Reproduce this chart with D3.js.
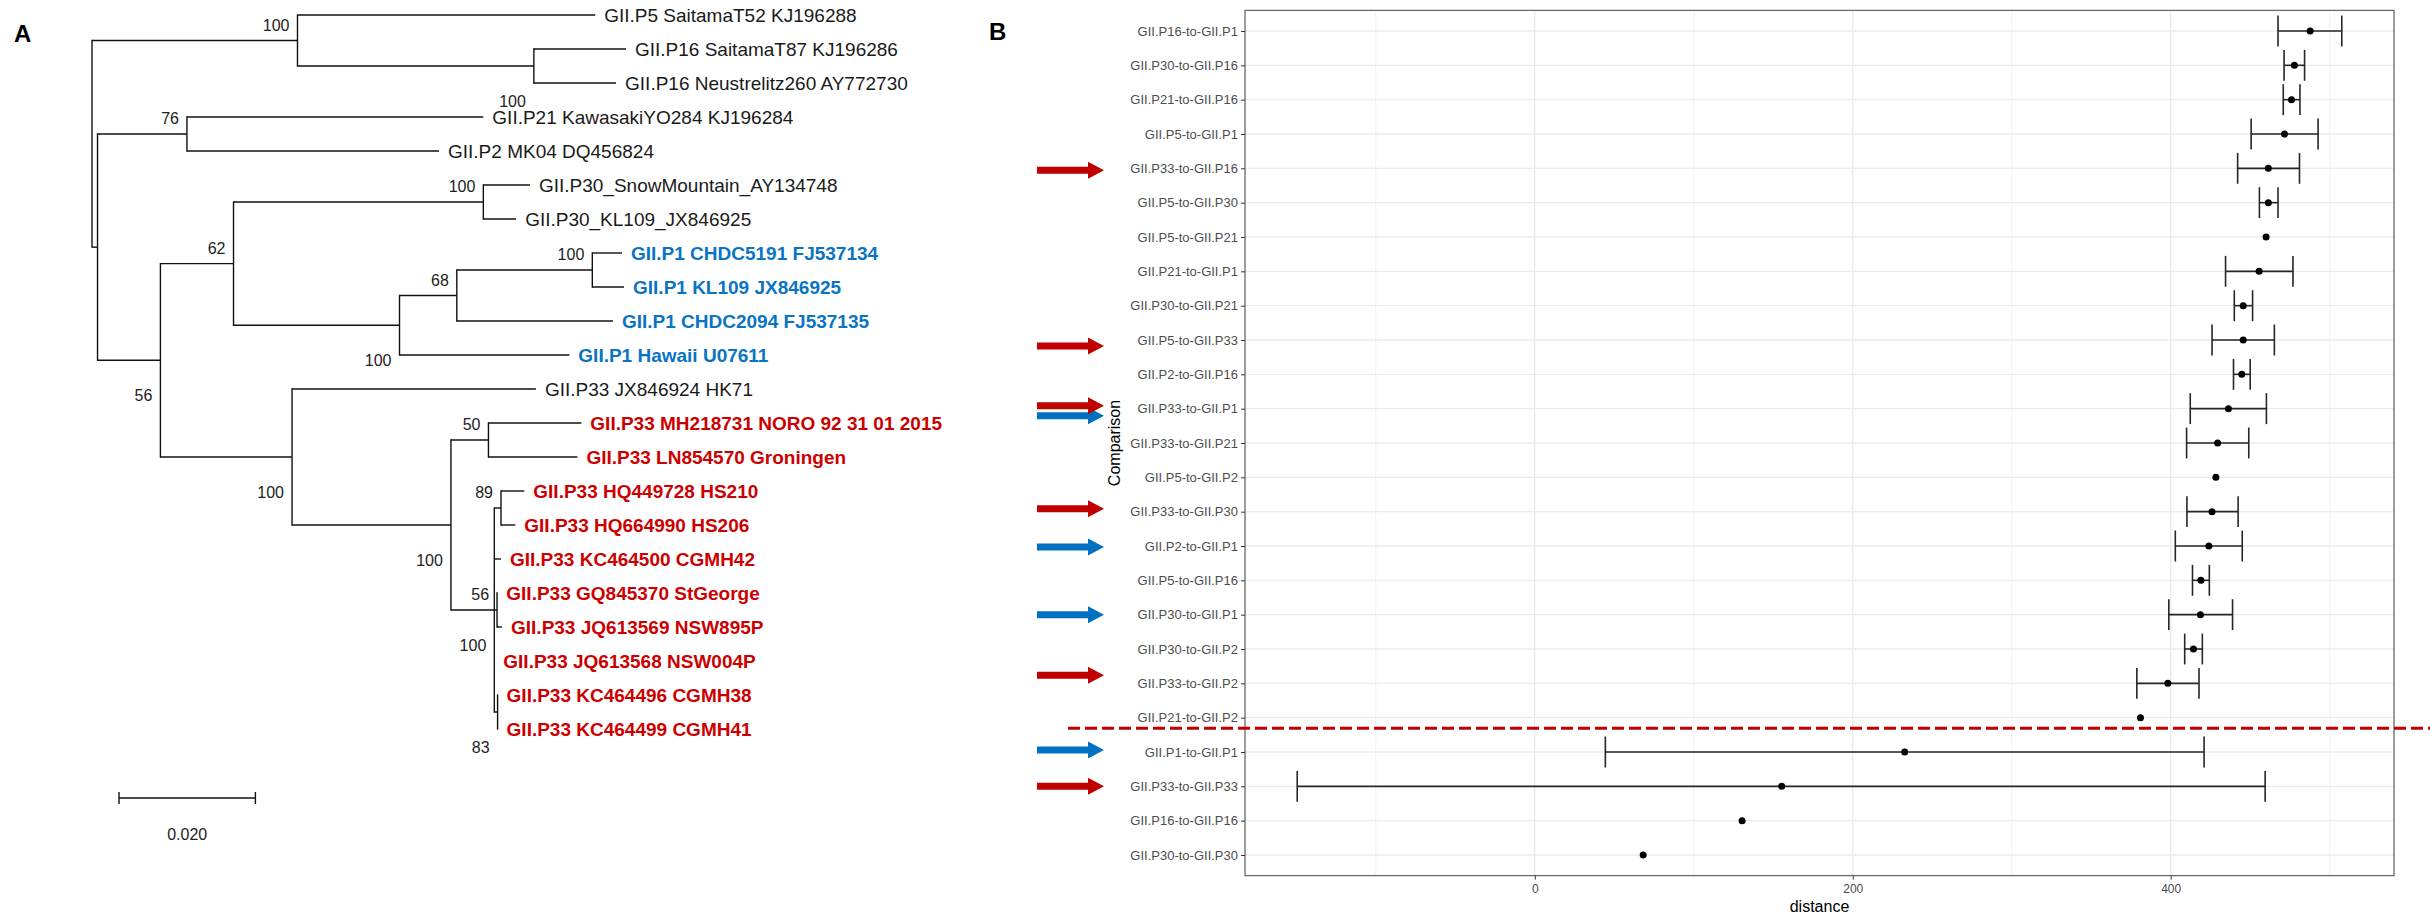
<!DOCTYPE html>
<html lang="en">
<head>
<meta charset="UTF-8">
<title>GII.P tree and distance comparison</title>
<script src="https://cdn.jsdelivr.net/npm/d3@7"></script>
<style>
  body { margin: 0; background: #fff; }
  svg { display: block; font-family: "Liberation Sans", Arial, sans-serif; }
</style>
</head>
<body>
<script>

// ---------- Panel A: tree data ----------
let tipLabels = [
    "GII.P5 SaitamaT52 KJ196288",
    "GII.P16 SaitamaT87 KJ196286",
    "GII.P16 Neustrelitz260 AY772730",
    "GII.P21 KawasakiYO284 KJ196284",
    "GII.P2 MK04 DQ456824",
    "GII.P30_SnowMountain_AY134748",
    "GII.P30_KL109_JX846925",
    "GII.P1 CHDC5191 FJ537134",
    "GII.P1 KL109 JX846925",
    "GII.P1 CHDC2094 FJ537135",
    "GII.P1 Hawaii U07611",
    "GII.P33 JX846924 HK71",
    "GII.P33 MH218731 NORO 92 31 01 2015",
    "GII.P33 LN854570 Groningen",
    "GII.P33 HQ449728 HS210",
    "GII.P33 HQ664990 HS206",
    "GII.P33 KC464500 CGMH42",
    "GII.P33 GQ845370 StGeorge",
    "GII.P33 JQ613569 NSW895P",
    "GII.P33 JQ613568 NSW004P",
    "GII.P33 KC464496 CGMH38",
    "GII.P33 KC464499 CGMH41"
];
// colour group of each tip (ref = black, P1 = blue, P33 = red)
let tipGroups = ["ref", "ref", "ref", "ref", "ref", "ref", "ref",
    "P1", "P1", "P1", "P1", "ref",
    "P33", "P33", "P33", "P33", "P33", "P33", "P33", "P33", "P33", "P33"];

// node, parent, branch length (tips are t1..t22 in label order)
let treeNodes = [
    {id: "root", parent: "", len: 0},
    {id: "nA", parent: "root", len: 0.03013},
    {id: "t1", parent: "nA", len: 0.04365},
    {id: "nA2", parent: "nA", len: 0.03466},
    {id: "t2", parent: "nA2", len: 0.01350},
    {id: "t3", parent: "nA2", len: 0.01205},
    {id: "n2", parent: "root", len: 0.00081},
    {id: "nB", parent: "n2", len: 0.01311},
    {id: "t4", parent: "nB", len: 0.04346},
    {id: "t5", parent: "nB", len: 0.03696},
    {id: "n3", parent: "n2", len: 0.00922},
    {id: "nC", parent: "n3", len: 0.01072},
    {id: "nC1", parent: "nC", len: 0.03663},
    {id: "t6", parent: "nC1", len: 0.00683},
    {id: "t7", parent: "nC1", len: 0.00481},
    {id: "nC2", parent: "nC", len: 0.02434},
    {id: "nC3", parent: "nC2", len: 0.00840},
    {id: "nC4", parent: "nC3", len: 0.01987},
    {id: "t8", parent: "nC4", len: 0.00435},
    {id: "t9", parent: "nC4", len: 0.00465},
    {id: "t10", parent: "nC3", len: 0.02289},
    {id: "t11", parent: "nC2", len: 0.02490},
    {id: "nD", parent: "n3", len: 0.01930},
    {id: "t12", parent: "nD", len: 0.03576},
    {id: "nE", parent: "nD", len: 0.02330},
    {id: "nE1", parent: "nE", len: 0.00550},
    {id: "t13", parent: "nE1", len: 0.01362},
    {id: "t14", parent: "nE1", len: 0.01304},
    {id: "nE2", parent: "nE", len: 0.00636},
    {id: "nF89", parent: "nE2", len: 0.00098},
    {id: "t15", parent: "nF89", len: 0.00342},
    {id: "t16", parent: "nF89", len: 0.00210},
    {id: "t17", parent: "nE2", len: 0.00098},
    {id: "nF56", parent: "nE2", len: 0.00040},
    {id: "t18", parent: "nF56", len: 0.00004},
    {id: "t19", parent: "nF56", len: 0.00073},
    {id: "t20", parent: "nE2", len: 0},
    {id: "nF83", parent: "nE2", len: 0.00048},
    {id: "t21", parent: "nF83", len: 0},
    {id: "t22", parent: "nF83", len: 0}
];

// bootstrap support per node and whether it sits above or below the node
let bootNodes = ["nA", "nA2", "nB", "nC1", "nC", "nC4", "nC3", "nC2", "n3", "nE1", "nD", "nE", "nF89", "nF56", "nE2", "nF83"];
let bootValues = [100, 100, 76, 100, 62, 100, 68, 100, 56, 50, 100, 100, 89, 56, 100, 83];
let bootSide = ["up", "down", "up", "up", "up", "up", "up", "down", "down", "up", "down", "down", "up", "up", "down", "down"];

let scaleBarValue = 0.02;

// ---------- Panel B: distance data ----------
let comparisons = [
    "GII.P16-to-GII.P1", "GII.P30-to-GII.P16", "GII.P21-to-GII.P16", "GII.P5-to-GII.P1",
    "GII.P33-to-GII.P16", "GII.P5-to-GII.P30", "GII.P5-to-GII.P21", "GII.P21-to-GII.P1",
    "GII.P30-to-GII.P21", "GII.P5-to-GII.P33", "GII.P2-to-GII.P16", "GII.P33-to-GII.P1",
    "GII.P33-to-GII.P21", "GII.P5-to-GII.P2", "GII.P33-to-GII.P30", "GII.P2-to-GII.P1",
    "GII.P5-to-GII.P16", "GII.P30-to-GII.P1", "GII.P30-to-GII.P2", "GII.P33-to-GII.P2",
    "GII.P21-to-GII.P2", "GII.P1-to-GII.P1", "GII.P33-to-GII.P33", "GII.P16-to-GII.P16",
    "GII.P30-to-GII.P30"
];
let meanDist = [487.7, 477.8, 476.0, 471.6, 461.4, 461.4, 460.0, 455.6, 445.6, 445.6, 444.7, 436.3,
    429.5, 428.4, 426.0, 424.0, 419.0, 418.7, 414.3, 398.2, 381.0, 232.7, 155.3, 130.4, 68.2];
let lowerDist = [467.5, 471.3, 470.8, 450.6, 442.1, 455.8, null, 434.5, 440.0, 426.0, 439.5, 412.3,
    410.0, null, 410.2, 402.9, 413.7, 398.8, 408.8, 378.7, null, 44.4, -149.4, null, null];
let upperDist = [507.6, 484.2, 481.3, 492.7, 481.0, 467.5, null, 476.9, 451.5, 465.2, 450.0, 460.2,
    449.1, null, 442.4, 445.0, 424.3, 438.9, 419.9, 417.8, null, 421.0, 459.4, null, null];

let xTicks = [0, 200, 400];
let xMinor = [-100, 100, 300, 500];

// highlighted rows (arrows left of the labels)
let arrowRows = ["GII.P33-to-GII.P16", "GII.P5-to-GII.P33", "GII.P33-to-GII.P1", "GII.P33-to-GII.P30",
    "GII.P33-to-GII.P2", "GII.P33-to-GII.P33",
    "GII.P33-to-GII.P1", "GII.P2-to-GII.P1", "GII.P30-to-GII.P1", "GII.P1-to-GII.P1"];
let arrowColors = ["red", "red", "red", "red", "red", "red", "blue", "blue", "blue", "blue"];
let arrowShift = [2, 6, -3, -3, -8, 0, 7, 1, 0, -2]; // small vertical nudges

let cutAfter = "GII.P21-to-GII.P2"; // dashed separator below this row

// ---------- drawing ----------
let W = 2430, H = 916;
let colRed = "#c00000", colBlue = "#0070c0";
let labelCol = {ref: "#1a1a1a", P1: "#0a74c4", P33: "#cc0000"};

let svg = d3.select("body").append("svg")
    .attr("width", W)
    .attr("height", H);

svg.append("rect").attr("width", W).attr("height", H).attr("fill", "#fff");

// panel letters
svg.append("text").attr("x", 14).attr("y", 42)
    .attr("font-size", "24px").attr("font-weight", "bold").text("A");
svg.append("text").attr("x", 989).attr("y", 40)
    .attr("font-size", "24px").attr("font-weight", "bold").text("B");

// ----- tree -----
let root = d3.stratify()
    .id(d => d.id)
    .parentId(d => d.parent)(treeNodes);

root.eachBefore(n => n.dist = (n.parent ? n.parent.dist : 0) + n.data.len);

let xTree = d3.scaleLinear().domain([0, scaleBarValue]).range([92, 228.4]);
let yTip = d3.scaleLinear().domain([0, tipLabels.length - 1]).range([15, 729]);

root.leaves().forEach(n => {
    n.tipIndex = +n.id.slice(1) - 1;
    n.yy = yTip(n.tipIndex);
});
root.eachAfter(n => {
    if (n.children) {
        n.yy = (n.children[0].yy + n.children[n.children.length - 1].yy) / 2;
    }
});

let tree = svg.append("g").attr("id", "tree");

// horizontal branches
tree.selectAll("line.branch")
    .data(root.descendants().filter(n => n.parent))
    .enter().append("line")
    .attr("class", "branch")
    .attr("x1", d => xTree(d.parent.dist))
    .attr("x2", d => xTree(d.dist))
    .attr("y1", d => d.yy)
    .attr("y2", d => d.yy)
    .attr("stroke", "#111")
    .attr("stroke-width", 1.4);

// vertical connectors
tree.selectAll("line.conn")
    .data(root.descendants().filter(n => n.children))
    .enter().append("line")
    .attr("class", "conn")
    .attr("x1", d => xTree(d.dist))
    .attr("x2", d => xTree(d.dist))
    .attr("y1", d => d.children[0].yy)
    .attr("y2", d => d.children[d.children.length - 1].yy)
    .attr("stroke", "#111")
    .attr("stroke-width", 1.4)
    .attr("stroke-linecap", "square");

// tip labels
tree.selectAll("text.tip")
    .data(root.leaves())
    .enter().append("text")
    .attr("class", "tip")
    .attr("x", d => xTree(d.dist) + 9)
    .attr("y", d => d.yy)
    .attr("dy", "0.35em")
    .attr("font-size", "19px")
    .attr("font-weight", d => tipGroups[d.tipIndex] === "ref" ? "normal" : "bold")
    .attr("fill", d => labelCol[tipGroups[d.tipIndex]])
    .text(d => tipLabels[d.tipIndex]);

// bootstrap values
let nodeById = new Map(root.descendants().map(n => [n.id, n]));
tree.selectAll("text.boot")
    .data(bootNodes)
    .enter().append("text")
    .attr("class", "boot")
    .attr("text-anchor", "end")
    .attr("x", d => xTree(nodeById.get(d).dist) - 8)
    .attr("y", (d, i) => nodeById.get(d).yy + (bootSide[i] === "up" ? -10 : 41))
    .attr("font-family", "'Liberation Sans Narrow', 'Liberation Sans', sans-serif")
    .attr("font-size", "16px")
    .attr("fill", "#222")
    .text((d, i) => bootValues[i]);

// scale bar
let sbX0 = 119, sbY = 798;
let sbX1 = sbX0 + xTree(scaleBarValue) - xTree(0);
tree.append("line").attr("x1", sbX0).attr("x2", sbX1).attr("y1", sbY).attr("y2", sbY)
    .attr("stroke", "#111").attr("stroke-width", 1.4);
[sbX0, sbX1].forEach(x => {
    tree.append("line").attr("x1", x).attr("x2", x).attr("y1", sbY - 6).attr("y2", sbY + 6)
        .attr("stroke", "#111").attr("stroke-width", 1.4);
});
tree.append("text")
    .attr("x", (sbX0 + sbX1) / 2).attr("y", 840)
    .attr("text-anchor", "middle")
    .attr("font-family", "'Liberation Sans Narrow', 'Liberation Sans', sans-serif")
    .attr("font-size", "16px").attr("fill", "#222")
    .text(scaleBarValue.toFixed(3));

// ----- dot plot -----
let pLeft = 1245, pRight = 2394, pTop = 10.4, pBottom = 875.6;

let lo = d3.min(comparisons.map((c, i) => lowerDist[i] != null ? lowerDist[i] : meanDist[i]));
let hi = d3.max(comparisons.map((c, i) => upperDist[i] != null ? upperDist[i] : meanDist[i]));
let pad = (hi - lo) * 0.05;

let xScale = d3.scaleLinear().domain([lo - pad, hi + pad]).range([pLeft, pRight]);
let yScale = d3.scalePoint().domain(comparisons).range([pTop, pBottom]).padding(0.6);
let step = yScale.step();

let plot = svg.append("g").attr("id", "dots");

// grid
plot.selectAll("line.minor")
    .data(xMinor)
    .enter().append("line")
    .attr("x1", d => xScale(d)).attr("x2", d => xScale(d))
    .attr("y1", pTop).attr("y2", pBottom)
    .attr("stroke", "#f0f0f0").attr("stroke-width", 0.9);

plot.selectAll("line.vmajor")
    .data(xTicks)
    .enter().append("line")
    .attr("x1", d => xScale(d)).attr("x2", d => xScale(d))
    .attr("y1", pTop).attr("y2", pBottom)
    .attr("stroke", "#ebebeb").attr("stroke-width", 1.4);

plot.selectAll("line.hmajor")
    .data(comparisons)
    .enter().append("line")
    .attr("x1", pLeft).attr("x2", pRight)
    .attr("y1", d => yScale(d)).attr("y2", d => yScale(d))
    .attr("stroke", "#ebebeb").attr("stroke-width", 1.4);

// error bars
let withBars = comparisons.map((c, i) => i).filter(i => lowerDist[i] != null);
let cap = step * 0.9 / 2;

plot.selectAll("line.bar")
    .data(withBars)
    .enter().append("line")
    .attr("x1", i => xScale(lowerDist[i])).attr("x2", i => xScale(upperDist[i]))
    .attr("y1", i => yScale(comparisons[i])).attr("y2", i => yScale(comparisons[i]))
    .attr("stroke", "#262626").attr("stroke-width", 1.6);

plot.selectAll("line.capLo")
    .data(withBars)
    .enter().append("line")
    .attr("x1", i => xScale(lowerDist[i])).attr("x2", i => xScale(lowerDist[i]))
    .attr("y1", i => yScale(comparisons[i]) - cap).attr("y2", i => yScale(comparisons[i]) + cap)
    .attr("stroke", "#262626").attr("stroke-width", 1.6);

plot.selectAll("line.capHi")
    .data(withBars)
    .enter().append("line")
    .attr("x1", i => xScale(upperDist[i])).attr("x2", i => xScale(upperDist[i]))
    .attr("y1", i => yScale(comparisons[i]) - cap).attr("y2", i => yScale(comparisons[i]) + cap)
    .attr("stroke", "#262626").attr("stroke-width", 1.6);

// points
plot.selectAll("circle")
    .data(meanDist)
    .enter().append("circle")
    .attr("cx", d => xScale(d))
    .attr("cy", (d, i) => yScale(comparisons[i]))
    .attr("r", 3.5)
    .attr("fill", "#000");

// border
plot.append("rect")
    .attr("x", pLeft).attr("y", pTop)
    .attr("width", pRight - pLeft).attr("height", pBottom - pTop)
    .attr("fill", "none").attr("stroke", "#6b6b6b").attr("stroke-width", 1.3);

// axes
let yAxis = plot.append("g")
    .attr("transform", "translate(" + pLeft + ",0)")
    .call(d3.axisLeft(yScale).tickSize(4).tickPadding(3));
yAxis.select(".domain").remove();
yAxis.selectAll("line").attr("stroke", "#333");
yAxis.selectAll("text").attr("fill", "#4d4d4d")
    .attr("font-size", "13px").attr("font-family", "'Liberation Sans', Arial, sans-serif");

let xAxis = plot.append("g")
    .attr("transform", "translate(0," + pBottom + ")")
    .call(d3.axisBottom(xScale).tickValues(xTicks).tickSize(4).tickPadding(5));
xAxis.select(".domain").remove();
xAxis.selectAll("line").attr("stroke", "#333");
xAxis.selectAll("text").attr("fill", "#4d4d4d")
    .attr("font-size", "12px").attr("font-family", "'Liberation Sans', Arial, sans-serif");

// axis titles
plot.append("text")
    .attr("x", (pLeft + pRight) / 2).attr("y", 912)
    .attr("text-anchor", "middle")
    .attr("font-size", "16px").attr("fill", "#000")
    .text("distance");

plot.append("text")
    .attr("transform", "translate(1120," + ((pTop + pBottom) / 2) + ") rotate(-90)")
    .attr("text-anchor", "middle")
    .attr("font-size", "16px").attr("fill", "#000")
    .text("Comparison");

// dashed separator
let cutY = yScale(cutAfter) + step * 0.31;
svg.append("line")
    .attr("x1", 1068).attr("x2", W)
    .attr("y1", cutY).attr("y2", cutY)
    .attr("stroke", colRed).attr("stroke-width", 3)
    .attr("stroke-dasharray", "12,5");

// arrows
function arrowPath(tipX, y) {
    let tail = tipX - 67, neck = tipX - 16, sh = 3.5, hh = 8.5;
    return "M" + tail + "," + (y - sh) +
        "L" + neck + "," + (y - sh) +
        "L" + neck + "," + (y - hh) +
        "L" + tipX + "," + y +
        "L" + neck + "," + (y + hh) +
        "L" + neck + "," + (y + sh) +
        "L" + tail + "," + (y + sh) + "Z";
}

let arrowOrder = arrowRows.map((r, i) => i).sort((a, b) =>
    (arrowColors[a] === "blue" ? 0 : 1) - (arrowColors[b] === "blue" ? 0 : 1));

svg.selectAll("path.arrow")
    .data(arrowOrder)
    .enter().append("path")
    .attr("class", "arrow")
    .attr("d", i => arrowPath(1104, yScale(arrowRows[i]) + arrowShift[i]))
    .attr("fill", i => arrowColors[i] === "red" ? colRed : colBlue);

</script>
</body>
</html>
